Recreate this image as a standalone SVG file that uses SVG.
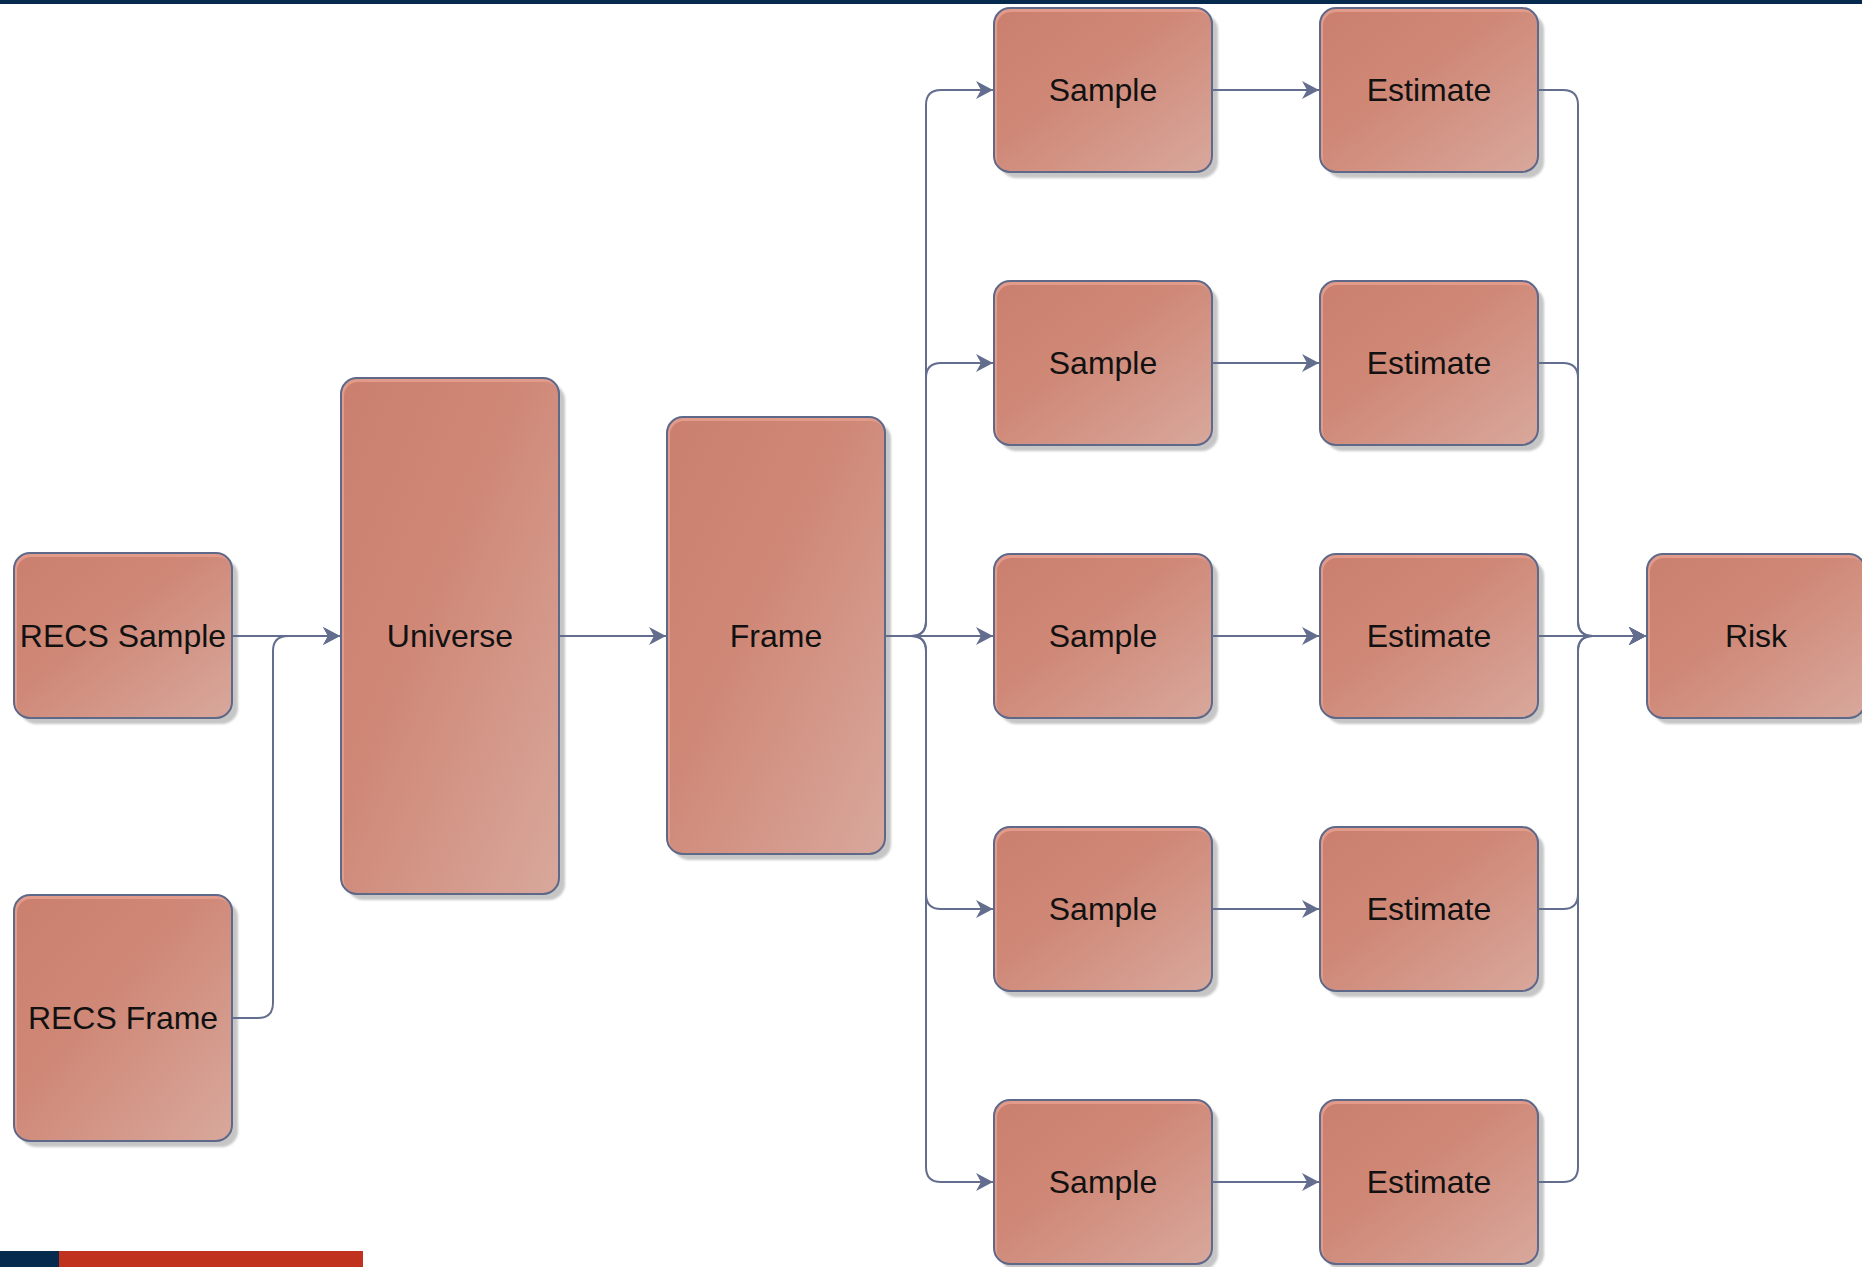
<svg xmlns="http://www.w3.org/2000/svg" width="1862" height="1267" viewBox="0 0 1862 1267">
<defs>
<linearGradient id="g" x1="0" y1="0" x2="1" y2="1">
<stop offset="0" stop-color="#cb806f"/>
<stop offset="0.4" stop-color="#cf8776"/>
<stop offset="1" stop-color="#d8a89c"/>
</linearGradient>
<filter id="blur" x="-10%" y="-10%" width="120%" height="120%"><feGaussianBlur stdDeviation="1"/></filter>
<marker id="a" markerUnits="userSpaceOnUse" markerWidth="22" markerHeight="22" viewBox="-19 -11 22 22" refX="0" refY="0" orient="auto"><path d="M0,0 L-17,-9 L-12,0 L-17,9 Z" fill="#636d8e"/></marker>
<style>
.sh{fill:#c6c6c6;filter:url(#blur)}
.bv{fill:#e29a8b}
.in{fill:url(#g)}
.bd{fill:none;stroke:#5e6889;stroke-width:2}
.t{font-family:"Liberation Sans",Arial,sans-serif;font-size:32px;fill:#111;text-anchor:middle;dominant-baseline:central}
.c{fill:none;stroke:#636d8e;stroke-width:2}
</style>
</defs>
<rect width="1862" height="1267" fill="#fff"/>
<rect x="0" y="0" width="1862" height="4" fill="#062a4d"/>
<rect x="0" y="1251" width="59" height="16" fill="#062a4d"/>
<rect x="59" y="1251" width="304" height="16" fill="#c0321d"/>

<g id="recs-sample">
<rect class="sh" x="20" y="559" width="218" height="165" rx="16"/>
<rect class="bv" x="14" y="553" width="218" height="165" rx="16"/>
<rect class="in" x="17" y="557" width="215" height="161" rx="14"/>
<rect class="bd" x="14" y="553" width="218" height="165" rx="16"/>
<text class="t" x="123" y="636">RECS Sample</text>
</g>
<g id="recs-frame">
<rect class="sh" x="20" y="901" width="218" height="246" rx="16"/>
<rect class="bv" x="14" y="895" width="218" height="246" rx="16"/>
<rect class="in" x="17" y="899" width="215" height="242" rx="14"/>
<rect class="bd" x="14" y="895" width="218" height="246" rx="16"/>
<text class="t" x="123" y="1018">RECS Frame</text>
</g>
<g id="universe">
<rect class="sh" x="347" y="384" width="218" height="516" rx="16"/>
<rect class="bv" x="341" y="378" width="218" height="516" rx="16"/>
<rect class="in" x="344" y="382" width="215" height="512" rx="14"/>
<rect class="bd" x="341" y="378" width="218" height="516" rx="16"/>
<text class="t" x="450" y="636">Universe</text>
</g>
<g id="frame">
<rect class="sh" x="673" y="423" width="218" height="437" rx="16"/>
<rect class="bv" x="667" y="417" width="218" height="437" rx="16"/>
<rect class="in" x="670" y="421" width="215" height="433" rx="14"/>
<rect class="bd" x="667" y="417" width="218" height="437" rx="16"/>
<text class="t" x="776" y="636">Frame</text>
</g>

<g id="sample-1">
<rect class="sh" x="1000" y="14" width="218" height="164" rx="16"/>
<rect class="bv" x="994" y="8" width="218" height="164" rx="16"/>
<rect class="in" x="997" y="12" width="215" height="160" rx="14"/>
<rect class="bd" x="994" y="8" width="218" height="164" rx="16"/>
<text class="t" x="1103" y="90">Sample</text>
</g>
<g id="sample-2">
<rect class="sh" x="1000" y="287" width="218" height="164" rx="16"/>
<rect class="bv" x="994" y="281" width="218" height="164" rx="16"/>
<rect class="in" x="997" y="285" width="215" height="160" rx="14"/>
<rect class="bd" x="994" y="281" width="218" height="164" rx="16"/>
<text class="t" x="1103" y="363">Sample</text>
</g>
<g id="sample-3">
<rect class="sh" x="1000" y="560" width="218" height="164" rx="16"/>
<rect class="bv" x="994" y="554" width="218" height="164" rx="16"/>
<rect class="in" x="997" y="558" width="215" height="160" rx="14"/>
<rect class="bd" x="994" y="554" width="218" height="164" rx="16"/>
<text class="t" x="1103" y="636">Sample</text>
</g>
<g id="sample-4">
<rect class="sh" x="1000" y="833" width="218" height="164" rx="16"/>
<rect class="bv" x="994" y="827" width="218" height="164" rx="16"/>
<rect class="in" x="997" y="831" width="215" height="160" rx="14"/>
<rect class="bd" x="994" y="827" width="218" height="164" rx="16"/>
<text class="t" x="1103" y="909">Sample</text>
</g>
<g id="sample-5">
<rect class="sh" x="1000" y="1106" width="218" height="164" rx="16"/>
<rect class="bv" x="994" y="1100" width="218" height="164" rx="16"/>
<rect class="in" x="997" y="1104" width="215" height="160" rx="14"/>
<rect class="bd" x="994" y="1100" width="218" height="164" rx="16"/>
<text class="t" x="1103" y="1182">Sample</text>
</g>

<g id="estimate-1">
<rect class="sh" x="1326" y="14" width="218" height="164" rx="16"/>
<rect class="bv" x="1320" y="8" width="218" height="164" rx="16"/>
<rect class="in" x="1323" y="12" width="215" height="160" rx="14"/>
<rect class="bd" x="1320" y="8" width="218" height="164" rx="16"/>
<text class="t" x="1429" y="90">Estimate</text>
</g>
<g id="estimate-2">
<rect class="sh" x="1326" y="287" width="218" height="164" rx="16"/>
<rect class="bv" x="1320" y="281" width="218" height="164" rx="16"/>
<rect class="in" x="1323" y="285" width="215" height="160" rx="14"/>
<rect class="bd" x="1320" y="281" width="218" height="164" rx="16"/>
<text class="t" x="1429" y="363">Estimate</text>
</g>
<g id="estimate-3">
<rect class="sh" x="1326" y="560" width="218" height="164" rx="16"/>
<rect class="bv" x="1320" y="554" width="218" height="164" rx="16"/>
<rect class="in" x="1323" y="558" width="215" height="160" rx="14"/>
<rect class="bd" x="1320" y="554" width="218" height="164" rx="16"/>
<text class="t" x="1429" y="636">Estimate</text>
</g>
<g id="estimate-4">
<rect class="sh" x="1326" y="833" width="218" height="164" rx="16"/>
<rect class="bv" x="1320" y="827" width="218" height="164" rx="16"/>
<rect class="in" x="1323" y="831" width="215" height="160" rx="14"/>
<rect class="bd" x="1320" y="827" width="218" height="164" rx="16"/>
<text class="t" x="1429" y="909">Estimate</text>
</g>
<g id="estimate-5">
<rect class="sh" x="1326" y="1106" width="218" height="164" rx="16"/>
<rect class="bv" x="1320" y="1100" width="218" height="164" rx="16"/>
<rect class="in" x="1323" y="1104" width="215" height="160" rx="14"/>
<rect class="bd" x="1320" y="1100" width="218" height="164" rx="16"/>
<text class="t" x="1429" y="1182">Estimate</text>
</g>

<g id="risk">
<rect class="sh" x="1653" y="560" width="218" height="164" rx="16"/>
<rect class="bv" x="1647" y="554" width="218" height="164" rx="16"/>
<rect class="in" x="1650" y="558" width="215" height="160" rx="14"/>
<rect class="bd" x="1647" y="554" width="218" height="164" rx="16"/>
<text class="t" x="1756" y="636">Risk</text>
</g>

<g id="connectors">
<path class="c" d="M233,636 H340" marker-end="url(#a)"/>
<path class="c" d="M233,1018 H258 Q273,1018 273,1003 V651 Q273,636 288,636 H340" marker-end="url(#a)"/>
<path class="c" d="M560,636 H666" marker-end="url(#a)"/>
<path class="c" d="M886,636 H911 Q926,636 926,621 V105 Q926,90 941,90 H993" marker-end="url(#a)"/>
<path class="c" d="M886,636 H911 Q926,636 926,621 V378 Q926,363 941,363 H993" marker-end="url(#a)"/>
<path class="c" d="M886,636 H993" marker-end="url(#a)"/>
<path class="c" d="M886,636 H911 Q926,636 926,651 V894 Q926,909 941,909 H993" marker-end="url(#a)"/>
<path class="c" d="M886,636 H911 Q926,636 926,651 V1167 Q926,1182 941,1182 H993" marker-end="url(#a)"/>
<path class="c" d="M1212,90 H1319" marker-end="url(#a)"/>
<path class="c" d="M1212,363 H1319" marker-end="url(#a)"/>
<path class="c" d="M1212,636 H1319" marker-end="url(#a)"/>
<path class="c" d="M1212,909 H1319" marker-end="url(#a)"/>
<path class="c" d="M1212,1182 H1319" marker-end="url(#a)"/>
<path class="c" d="M1539,90 H1563 Q1578,90 1578,105 V621 Q1578,636 1593,636 H1646" marker-end="url(#a)"/>
<path class="c" d="M1539,363 H1563 Q1578,363 1578,378 V621 Q1578,636 1593,636 H1646" marker-end="url(#a)"/>
<path class="c" d="M1539,636 H1646" marker-end="url(#a)"/>
<path class="c" d="M1539,909 H1563 Q1578,909 1578,894 V651 Q1578,636 1593,636 H1646" marker-end="url(#a)"/>
<path class="c" d="M1539,1182 H1563 Q1578,1182 1578,1167 V651 Q1578,636 1593,636 H1646" marker-end="url(#a)"/>
</g>
</svg>
